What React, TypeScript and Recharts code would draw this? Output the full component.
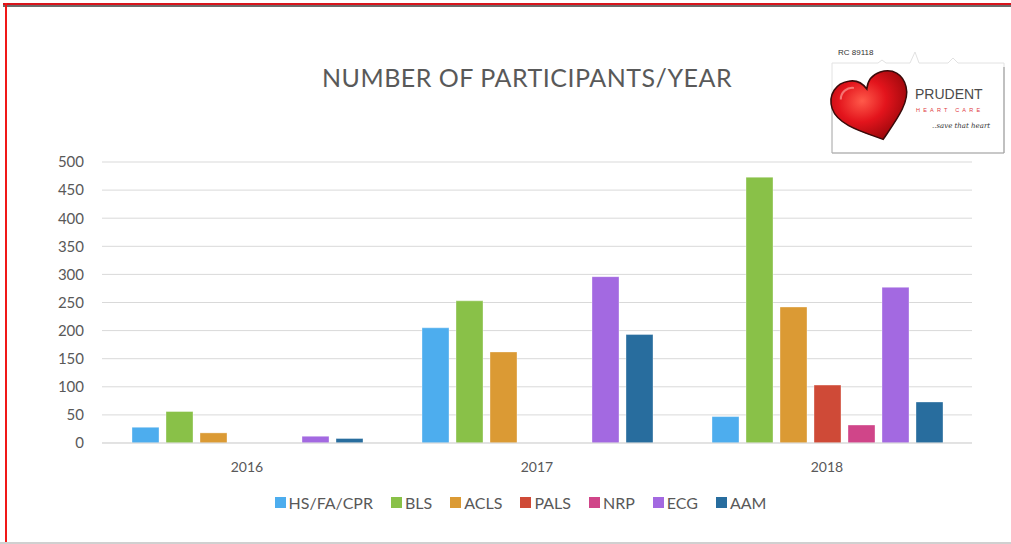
import { Bar, BarChart, CartesianGrid, Legend, XAxis, YAxis } from "recharts";

const years = ["2016", "2017", "2018"];
const hsFaCpr = [28, 205, 47];
const bls = [56, 253, 473];
const acls = [18, 162, 242];
const pals = [0, 0, 103];
const nrp = [0, 0, 32];
const ecg = [12, 296, 277];
const aam = [8, 193, 73];
const yTicks = [0, 50, 100, 150, 200, 250, 300, 350, 400, 450, 500];

const series = [
  { key: "hs", name: "HS/FA/CPR", values: hsFaCpr, color: "#4dadee" },
  { key: "bls", name: "BLS", values: bls, color: "#89c148" },
  { key: "acls", name: "ACLS", values: acls, color: "#db9a34" },
  { key: "pals", name: "PALS", values: pals, color: "#cf4a37" },
  { key: "nrp", name: "NRP", values: nrp, color: "#d04589" },
  { key: "ecg", name: "ECG", values: ecg, color: "#a369e1" },
  { key: "aam", name: "AAM", values: aam, color: "#286d9e" },
];

const data = years.map((year, i) => {
  const row: Record<string, string | number> = { year };
  series.forEach((s) => {
    row[s.key] = s.values[i];
  });
  return row;
});

const FONT = "Lato, 'Open Sans', sans-serif";
const TEXT = "#595959";
const order = series.map((s) => s.name);

function LegendRow({ payload }: { payload?: { value: string; color: string }[] }) {
  const items = [...(payload || [])].sort((a, b) => order.indexOf(a.value) - order.indexOf(b.value));
  return (
    <div
      style={{
        display: "flex",
        justifyContent: "center",
        gap: 18,
        paddingLeft: 30,
        fontFamily: FONT,
        fontSize: 16,
        color: TEXT,
      }}
    >
      {items.map((p) => (
        <div key={p.value} style={{ display: "flex", alignItems: "center" }}>
          <span style={{ width: 11, height: 11, background: p.color, marginRight: 3, display: "inline-block" }} />
          <span>{p.value}</span>
        </div>
      ))}
    </div>
  );
}

function Logo() {
  return (
    <svg width={191} height={120} style={{ position: "absolute", left: 820, top: 40 }}>
      <defs>
        <radialGradient id="heartFill" cx="0.4" cy="0.35" r="0.7">
          <stop offset="0" stopColor="#ff5a4a" />
          <stop offset="0.45" stopColor="#e3141c" />
          <stop offset="1" stopColor="#8e0508" />
        </radialGradient>
      </defs>
      <text x={18} y={15} fontSize={8} fontFamily="Arial, sans-serif" fill="#333">
        RC 89118
      </text>
      <path
        d="M12 113 L12 23 L58 23 L62 20 L66 23 L90 23 L95 12 L99 23 L128 23 L133 18 L138 23 L184 23 L184 113 Z"
        fill="#fff"
        stroke="#e2e2e2"
        strokeWidth={1}
      />
      <line x1={12} y1={113} x2={184} y2={113} stroke="#a0a0a0" strokeWidth={1.2} />
      <line x1={12} y1={60} x2={12} y2={113} stroke="#b0b0b0" strokeWidth={1} />
      <line x1={184} y1={27} x2={184} y2={113} stroke="#a0a0a0" strokeWidth={1.2} />
      <g transform="translate(53 68) rotate(-18)">
        <path
          d="M0 33 C-18 19 -39 5 -39 -12 C-39 -27 -27 -35 -15 -33 C-7 -32 -2 -26 0 -20 C3 -27 9 -32 18 -32 C31 -32 39 -23 38 -10 C37 6 18 19 0 33 Z"
          fill="url(#heartFill)"
          stroke="#3a0a0a"
          strokeWidth={1.5}
        />
        <path d="M-28 -18 C-26 -25 -18 -28 -12 -25" fill="none" stroke="#ffb0a8" strokeWidth={2} opacity={0.6} />
      </g>
      <text x={95} y={59} fontSize={14} fontFamily="Arial, sans-serif" fill="#4a4a4a">
        PRUDENT
      </text>
      <text x={96} y={72} fontSize={5.5} fontFamily="Arial, sans-serif" fill="#e0393e" letterSpacing={3.2}>
        HEART CARE
      </text>
      <text x={112} y={88} fontSize={7} fontStyle="italic" fontFamily="'DejaVu Serif', serif" fill="#333">
        ..save that heart
      </text>
    </svg>
  );
}

export default function App() {
  return (
    <div
      style={{
        position: "absolute",
        left: 0,
        top: 0,
        width: 1011,
        height: 544,
        background: "#fff",
        overflow: "hidden",
      }}
    >
      <div style={{ position: "absolute", left: 3, top: 3, width: 1008, height: 2, background: "#d8141c" }} />
      <div style={{ position: "absolute", left: 3, top: 5, width: 1008, height: 2, background: "#6b6b6b" }} />
      <div style={{ position: "absolute", left: 5, top: 3, width: 2, height: 541, background: "#f01818" }} />
      <div style={{ position: "absolute", left: 0, top: 542, width: 1011, height: 2, background: "#d0d0d0" }} />
      <div
        style={{
          position: "absolute",
          left: 227,
          top: 62,
          width: 600,
          textAlign: "center",
          fontFamily: FONT,
          fontSize: 25,
          color: TEXT,
          letterSpacing: 0.5,
        }}
      >
        NUMBER OF PARTICIPANTS/YEAR
      </div>
      <BarChart
        width={1011}
        height={544}
        data={data}
        margin={{ top: 162, right: 39, bottom: 61, left: 42 }}
        barSize={27}
        barGap={7}
        style={{ position: "absolute", left: 0, top: 0 }}
      >
        <CartesianGrid vertical={false} stroke="#d9d9d9" strokeWidth={1} />
        <XAxis
          dataKey="year"
          tickLine={false}
          axisLine={{ stroke: "#d9d9d9" }}
          tick={{ fill: TEXT, fontSize: 14, fontFamily: FONT }}
          tickMargin={13}
          height={40}
        />
        <YAxis
          width={60}
          domain={[0, 500]}
          ticks={yTicks}
          interval={0}
          tickLine={false}
          axisLine={false}
          tick={{ fill: TEXT, fontSize: 15, fontFamily: FONT }}
          tickMargin={12}
        />
        <Legend
          verticalAlign="middle"
          align="center"
          wrapperStyle={{ top: 493, left: 0, width: 1011 }}
          content={<LegendRow />}
        />
        {series.map((s) => (
          <Bar
            key={s.key}
            dataKey={s.key}
            name={s.name}
            fill={s.color}
            stroke="#ffffff"
            strokeOpacity={0.35}
            isAnimationActive={false}
          />
        ))}
      </BarChart>
      <Logo />
    </div>
  );
}
